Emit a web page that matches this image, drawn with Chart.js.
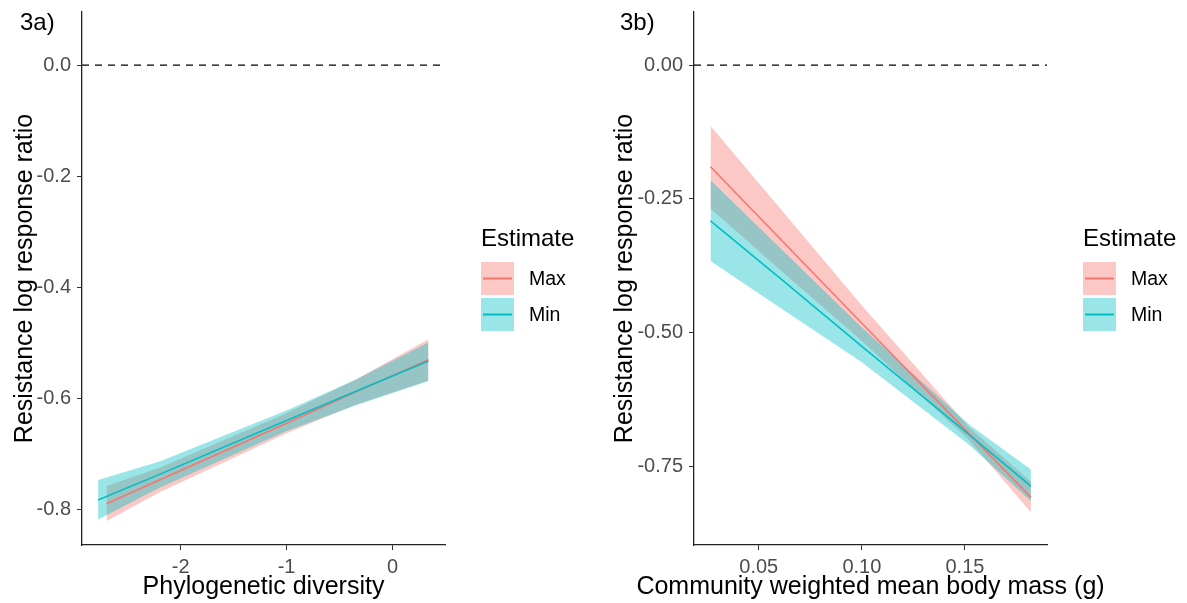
<!DOCTYPE html>
<html>
<head>
<meta charset="utf-8">
<script src="https://cdn.jsdelivr.net/npm/chart.js@4.4.0/dist/chart.umd.min.js"></script>
<style>
    html, body { margin: 0; padding: 0; background: #fff; }
    .panel { position: absolute; top: 0; height: 603px; }
    #panel-a { left: 0; width: 600px; }
    #panel-b { left: 600px; width: 587px; }
</style>
</head>
<body>
<div class="panel" id="panel-a"><canvas id="chart-pd"></canvas></div>
<div class="panel" id="panel-b"><canvas id="chart-bm"></canvas></div>
<script>
const SERIES = ["Max", "Min"];

// 3a) phylogenetic diversity
const PD_MAX_X = [-2.70, -2.2, -1.0, -0.35, 0.34];
const PD_MAX_FIT = [-0.789, -0.746, -0.644, -0.588, -0.530];
const PD_MAX_HI = [-0.757, -0.724, -0.626, -0.566, -0.493];
const PD_MAX_LO = [-0.820, -0.768, -0.662, -0.611, -0.567];
const PD_MIN_X = [-2.78, -2.2, -1.0, -0.35, 0.34];
const PD_MIN_FIT = [-0.782, -0.736, -0.639, -0.587, -0.532];
const PD_MIN_HI = [-0.746, -0.713, -0.621, -0.566, -0.499];
const PD_MIN_LO = [-0.817, -0.760, -0.658, -0.612, -0.568];
const PD_X_TICKS = [-2, -1, 0];
const PD_Y_TICKS = [-0.8, -0.6, -0.4, -0.2, 0.0];
const PD_X_RANGE = [-2.932, 0.496];
const PD_Y_RANGE = [-0.863, 0.0955];

// 3b) community weighted mean body mass
const BM_X = [0.0266, 0.06, 0.10, 0.152, 0.182];
const BM_MAX_FIT = [-0.190, -0.323, -0.482, -0.688, -0.807];
const BM_MAX_HI = [-0.114, -0.266, -0.449, -0.676, -0.778];
const BM_MAX_LO = [-0.268, -0.381, -0.515, -0.700, -0.835];
const BM_MIN_FIT = [-0.291, -0.397, -0.525, -0.690, -0.786];
const BM_MIN_HI = [-0.215, -0.340, -0.490, -0.671, -0.755];
const BM_MIN_LO = [-0.366, -0.452, -0.555, -0.709, -0.814];
const BM_X_TICKS = [0.05, 0.10, 0.15];
const BM_Y_TICKS = [-0.75, -0.50, -0.25, 0.00];
const BM_X_RANGE = [0.0186, 0.1898];
const BM_Y_RANGE = [-0.896, 0.099];

const COLORS = {
    Max: { r: 248, g: 118, b: 109 },
    Min: { r: 0, g: 191, b: 196 },
};
const RIBBON_ALPHA = 0.4;
const FONT = '"Liberation Sans", Arial, sans-serif';

Chart.defaults.font.family = FONT;

function rgba({ r, g, b }, a) {
    return `rgba(${r}, ${g}, ${b}, ${a})`;
}

function xy(xs, ys) {
    return xs.map((x, i) => ({ x, y: ys[i] }));
}

function ribbon(xs, hi, lo, color, order) {
    const base = { pointRadius: 0, borderWidth: 0, borderColor: "rgba(0,0,0,0)", order };
    return [
        { ...base, data: xy(xs, hi), fill: false },
        { ...base, data: xy(xs, lo), fill: "-1", backgroundColor: rgba(color, RIBBON_ALPHA) },
    ];
}

function fitLine(xs, ys, color, order) {
    return {
        data: xy(xs, ys),
        borderColor: rgba(color, 1),
        borderWidth: 1.6,
        pointRadius: 0,
        fill: false,
        order,
    };
}

// panel tag, x title (may run wider than the axis) and the "Estimate" key
const panelDecor = {
    id: "panelDecor",
    afterDraw(chart, args, opts) {
        const { ctx, chartArea } = chart;
        ctx.save();
        ctx.fillStyle = "#000";
        ctx.textBaseline = "middle";
        ctx.textAlign = "left";
        ctx.font = `24px ${FONT}`;
        ctx.fillText(opts.tag, 20, 23);

        ctx.textAlign = "center";
        ctx.font = `25px ${FONT}`;
        ctx.fillText(opts.xTitle, (chartArea.left + chartArea.right) / 2, 587);

        ctx.textAlign = "left";
        ctx.font = `24px ${FONT}`;
        const x0 = chartArea.right + 36;
        ctx.fillText("Estimate", x0, 239);
        ctx.font = `19.5px ${FONT}`;
        SERIES.forEach((name, i) => {
            const top = 262 + i * 36;
            ctx.fillStyle = rgba(COLORS[name], RIBBON_ALPHA);
            ctx.fillRect(x0, top, 33, 33);
            ctx.strokeStyle = rgba(COLORS[name], 1);
            ctx.lineWidth = 2;
            ctx.beginPath();
            ctx.moveTo(x0 + 2, top + 16.5);
            ctx.lineTo(x0 + 31, top + 16.5);
            ctx.stroke();
            ctx.fillStyle = "#000";
            ctx.fillText(name, x0 + 48, top + 18);
        });
        ctx.restore();
    },
};

function axis(range, ticks, digits, fitSize, isY) {
    return {
        type: "linear",
        min: range[0],
        max: range[1],
        afterBuildTicks: (s) => {
            s.ticks = ticks.map((v) => ({ value: v }));
        },
        afterFit: (s) => {
            if (isY) {
                s.width = fitSize;
                s.paddingTop = 0;
                s.paddingBottom = 0;
            } else {
                s.height = fitSize;
                s.paddingLeft = 0;
                s.paddingRight = 0;
            }
        },
        grid: { drawOnChartArea: false, drawTicks: true, tickLength: 5, color: "#333" },
        border: { display: true, color: "#222", width: 1.3 },
        ticks: {
            color: "#4d4d4d",
            font: { size: 20 },
            padding: isY ? 6 : 5,
            maxRotation: 0,
            callback: (v) => Number(v).toFixed(digits),
        },
        title: {
            display: isY,
            text: "Resistance log response ratio",
            color: "#000",
            font: { size: 25 },
            padding: { top: 10, bottom: 0 },
        },
    };
}

function renderPanel(canvasId, cfg) {
    const canvas = document.getElementById(canvasId);
    return new Chart(canvas, {
        type: "line",
        data: {
            datasets: [
                {
                    data: [{ x: cfg.xRange[0], y: 0 }, { x: cfg.xRange[1], y: 0 }],
                    borderColor: "#000",
                    borderWidth: 1.3,
                    borderDash: [7, 6],
                    pointRadius: 0,
                    fill: false,
                    order: 5,
                },
                ...ribbon(cfg.maxX, cfg.maxHi, cfg.maxLo, COLORS.Max, 4),
                ...ribbon(cfg.minX, cfg.minHi, cfg.minLo, COLORS.Min, 3),
                fitLine(cfg.maxX, cfg.maxFit, COLORS.Max, 2),
                fitLine(cfg.minX, cfg.minFit, COLORS.Min, 1),
            ],
        },
        options: {
            responsive: true,
            maintainAspectRatio: false,
            animation: false,
            layout: { padding: { top: 12, right: cfg.padRight, left: 0, bottom: 0 } },
            plugins: {
                legend: { display: false },
                tooltip: { enabled: false },
                panelDecor: { tag: cfg.tag, xTitle: cfg.xTitle },
            },
            scales: {
                x: axis(cfg.xRange, cfg.xTicks, cfg.xDigits, 58, false),
                y: axis(cfg.yRange, cfg.yTicks, cfg.yDigits, cfg.yWidth, true),
            },
        },
        plugins: [panelDecor],
    });
}

renderPanel("chart-pd", {
    tag: "3a)",
    maxX: PD_MAX_X, maxFit: PD_MAX_FIT, maxHi: PD_MAX_HI, maxLo: PD_MAX_LO,
    minX: PD_MIN_X, minFit: PD_MIN_FIT, minHi: PD_MIN_HI, minLo: PD_MIN_LO,
    xRange: PD_X_RANGE, yRange: PD_Y_RANGE,
    xTicks: PD_X_TICKS, yTicks: PD_Y_TICKS,
    xDigits: 0, yDigits: 1,
    xTitle: "Phylogenetic diversity",
    yWidth: 82, padRight: 155,
});

renderPanel("chart-bm", {
    tag: "3b)",
    maxX: BM_X, maxFit: BM_MAX_FIT, maxHi: BM_MAX_HI, maxLo: BM_MAX_LO,
    minX: BM_X, minFit: BM_MIN_FIT, minHi: BM_MIN_HI, minLo: BM_MIN_LO,
    xRange: BM_X_RANGE, yRange: BM_Y_RANGE,
    xTicks: BM_X_TICKS, yTicks: BM_Y_TICKS,
    xDigits: 2, yDigits: 2,
    xTitle: "Community weighted mean body mass (g)",
    yWidth: 94, padRight: 140,
});
</script>
</body>
</html>
